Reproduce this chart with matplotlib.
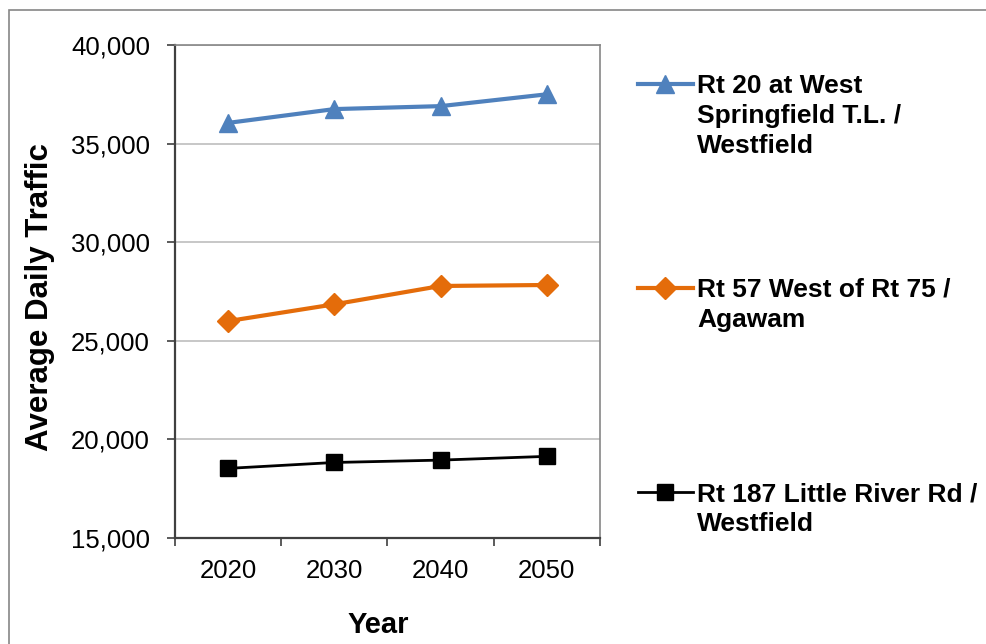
import matplotlib
matplotlib.use("Agg")
import matplotlib.pyplot as plt
from matplotlib.lines import Line2D
from matplotlib.patches import Rectangle
import numpy as np

plt.rcParams['font.family'] = ['Liberation Sans', 'DejaVu Sans']

years = ['2020', '2030', '2040', '2050']
rt20_west_springfield = [36050, 36750, 36900, 37500]
rt57_agawam = [26000, 26850, 27780, 27830]
rt187_little_river = [18530, 18830, 18950, 19140]

series_labels = [
    ['Rt 20 at West', 'Springfield T.L. /', 'Westfield'],
    ['Rt 57 West of Rt 75 /', 'Agawam'],
    ['Rt 187 Little River Rd /', 'Westfield'],
]
y_ticks = [15000, 20000, 25000, 30000, 35000, 40000]

styles = [
    dict(color='#4F81BD', marker='^', markersize=13, linewidth=3.0),
    dict(color='#E46C0A', marker='D', markersize=11, linewidth=3.0),
    dict(color='#000000', marker='s', markersize=12, linewidth=2.0),
]
series = [rt20_west_springfield, rt57_agawam, rt187_little_river]

W, H = 987, 644
fig = plt.figure(figsize=(W / 100, H / 100), dpi=100)

# outer chart border
fig.patches.append(Rectangle((9 / W, -0.1), 1.2, 1.1 - 10 / H,
                             transform=fig.transFigure, fill=False,
                             edgecolor='#868686', linewidth=1.2))

ax = fig.add_axes([175 / W, 1 - 538 / H, 425 / W, 493 / H])

x = np.arange(len(years))
for vals, st in zip(series, styles):
    ax.plot(x, vals, color=st['color'], linewidth=st['linewidth'],
            marker=st['marker'], markersize=st['markersize'],
            markerfacecolor=st['color'], markeredgecolor=st['color'],
            zorder=3, clip_on=False)

ax.set_xlim(-0.5, len(years) - 0.5)
ax.set_ylim(y_ticks[0], y_ticks[-1])

ax.set_yticks(y_ticks)
ax.set_yticklabels([f'{v:,}' for v in y_ticks], fontsize=18.5)
ax.yaxis.grid(True, color='#BEBEBE', linewidth=1.2)
ax.set_axisbelow(True)

# category boundaries get tick marks, category centres get labels
ax.set_xticks(np.arange(-0.5, len(years), 1.0))
ax.set_xticklabels([])
ax.set_xticks(x, minor=True)
ax.set_xticklabels(years, minor=True, fontsize=18.5)
ax.tick_params(axis='x', which='minor', length=0, pad=15)
ax.tick_params(axis='x', which='major', length=6, width=1.2, color='#404040')
ax.tick_params(axis='y', length=6, width=1.2, color='#404040', pad=12)

for side in ['top', 'right']:
    ax.spines[side].set_color('#868686')
    ax.spines[side].set_linewidth(1.2)
for side in ['left', 'bottom']:
    ax.spines[side].set_color('#404040')
    ax.spines[side].set_linewidth(1.6)

fig.text(40 / W, 1 - 297 / H, 'Average Daily Traffic', rotation=90,
         fontsize=22.5, fontweight='bold', ha='center', va='center')
fig.text(378 / W, 1 - 625 / H, 'Year', fontsize=21, fontweight='bold',
         ha='center', va='center')

# legend entries, handle aligned with the first text line
legend_rows = [84, 288, 492]
line_step = 30
for lines, st, yc in zip(series_labels, styles, legend_rows):
    yf = 1 - yc / H
    fig.add_artist(Line2D([638 / W, 693 / W], [yf, yf], transform=fig.transFigure,
                          color=st['color'], linewidth=st['linewidth']))
    fig.add_artist(Line2D([665.5 / W], [yf], transform=fig.transFigure,
                          color=st['color'], marker=st['marker'],
                          markersize=st['markersize'], linestyle='none'))
    for i, txt in enumerate(lines):
        fig.text(697 / W, 1 - (yc + 9 + i * line_step) / H, txt, fontsize=19,
                 fontweight='bold', ha='left', va='baseline')

fig.savefig('out.png', dpi=100)
